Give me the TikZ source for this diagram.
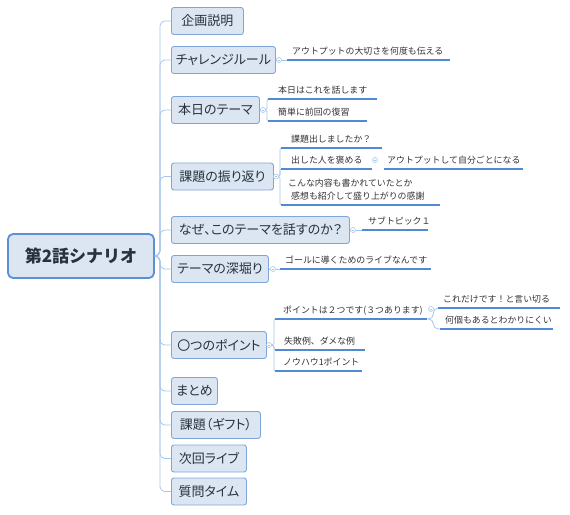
\documentclass[tikz,border=0pt]{standalone}
\usepackage{fontspec}
\setmainfont{Noto Sans CJK JP}
\newfontfamily\jpprop[RawFeature=+palt]{Noto Sans CJK JP}
\newcommand\rtfont{\fontsize{17}{20}\selectfont\bfseries}
\newcommand\bxfont{\jpprop\fontsize{13}{15}\selectfont}
\newcommand\sbfont{\fontsize{8.9}{13}\selectfont}
\definecolor{boxfill}{HTML}{DCE6F2}
\definecolor{boxdraw}{HTML}{7FA6D9}
\definecolor{rootdraw}{HTML}{5D8FD4}
\definecolor{textc}{HTML}{26323F}
\definecolor{subtext}{HTML}{333333}
\definecolor{ulinec}{HTML}{5089D4}
\definecolor{connc}{HTML}{A8C5EA}
\tikzset{
  rootbox/.style={draw=rootdraw, fill=boxfill, line width=1.8pt, rounded corners=5pt,
    minimum width=146pt, minimum height=44pt, inner sep=0pt, font=\rtfont, text=textc},
  topic/.style={draw=boxdraw, fill=boxfill, line width=0.9pt, rounded corners=2.5pt,
    minimum height=27pt, inner xsep=0pt, anchor=west, font=\bxfont, text=textc},
  sub/.style={anchor=south west, inner xsep=0pt, inner ysep=5pt, text depth=0pt,
    align=left, font=\sbfont, text=subtext},
  conn/.style={draw=connc, line width=0.8pt},
  uline/.style={draw=ulinec, line width=1.4pt},
  tog/.style={circle, draw=connc, fill=white, line width=0.6pt, minimum size=5pt, inner sep=0pt,
    path picture={\draw[connc, line width=0.5pt] ([xshift=1.2pt]path picture bounding box.west) -- ([xshift=-1.2pt]path picture bounding box.east);}}
}
\begin{document}
\begin{tikzpicture}[x=1pt,y=-1pt]
\useasboundingbox (0,0) rectangle (570,514);

% root
\node[rootbox] (root) at (81,256) {第2話シナリオ};

% main topics
\node[topic, minimum width=72pt]  (b1)  at (171,21)    {企画説明};
\node[topic, minimum width=104pt] (b2)  at (171,60)    {チャレンジルール};
\node[topic, minimum width=88pt]  (b3)  at (171,110)   {本日のテーマ};
\node[topic, minimum width=102pt] (b4)  at (171,176.5) {課題の振り返り};
\node[topic, minimum width=178pt] (b5)  at (171,230)   {なぜ、このテーマを話すのか？};
\node[topic, minimum width=97pt]  (b6)  at (171,269)   {テーマの深堀り};
\node[topic, minimum width=95pt]  (b7)  at (171,345)   {〇つのポイント};
\node[topic, minimum width=46pt]  (b8)  at (171,391)   {まとめ};
\node[topic, minimum width=89pt]  (b9)  at (171,425)   {課題（ギフト）};
\node[topic, minimum width=75pt]  (b10) at (171,458.5) {次回ライブ};
\node[topic, minimum width=75pt]  (b11) at (171,491.5) {質問タイム};

% trunk connectors
\foreach \b in {b1,b2,b3,b4,b5,b6,b7,b8,b9,b10,b11}
  \draw[conn, rounded corners=5pt] (root.east) -- ++(5,0) |- (\b.west);

% subtopics
\node[sub, text width=163pt] (s2)  at (287,60)  {\hspace*{5pt}アウトプットの大切さを何度も伝える};
\node[sub, text width=109pt] (s3a) at (268,99)  {\hspace*{10pt}本日はこれを話します};
\node[sub, text width=99pt]  (s3b) at (268,121) {\hspace*{10pt}簡単に前回の復習};
\node[sub, text width=101pt] (s4a) at (281,148) {\hspace*{10pt}課題出しましたか？};
\node[sub, text width=91pt]  (s4b) at (281,169) {\hspace*{10pt}出した人を褒める};
\node[sub, text width=159pt] (s4c) at (281,205) {\parbox[b]{159pt}{\hspace*{7pt}こんな内容も書かれていたとか\\\hspace*{10pt}感想も紹介して盛り上がりの感謝}};
\node[sub, text width=139pt] (s4d) at (384,169) {\hspace*{3pt}アウトプットして自分ごとになる};
\node[sub, text width=66pt]  (s5)  at (362,230) {\hspace*{6pt}サブトピック１};
\node[sub, text width=151pt] (s6)  at (280,269) {\hspace*{5pt}ゴールに導くためのライブなんです};
\node[sub, text width=152pt] (s7a) at (275,319) {\hspace*{8pt}ポイントは２つです(３つあります)};
\node[sub, text width=122pt] (s7a1) at (438,308) {\hspace*{5pt}これだけです！と言い切る};
\node[sub, text width=113pt] (s7a2) at (440,329) {\hspace*{5pt}何個もあるとわかりにくい};
\node[sub, text width=90pt]  (s7b) at (275,350) {\hspace*{9pt}失敗例、ダメな例};
\node[sub, text width=87pt]  (s7c) at (275,371) {\hspace*{8pt}ノウハウ1ポイント};

% sub connectors
\draw[conn] (b2.east) -- (s2.south west);
\foreach \s in {s3a,s3b}
  \draw[conn, rounded corners=1.5pt] (b3.east) -- ++(7,0) |- (\s.south west);
\foreach \s in {s4a,s4b,s4c}
  \draw[conn, rounded corners=1.5pt] (b4.east) -- ++(6,0) |- (\s.south west);
\draw[conn] (b5.east) -- (s5.south west);
\draw[conn] (b6.east) -- (s6.south west);
\foreach \s in {s7a,s7b,s7c}
  \draw[conn, rounded corners=1.5pt] (b7.east) -- ++(7,0) |- (\s.south west);
\foreach \s in {s7a1,s7a2}
  \draw[conn, rounded corners=5pt] (s7a.south east) -- ++(6,0) |- (\s.south west);

% underlines
\foreach \s in {s2,s3a,s3b,s4a,s4b,s4c,s4d,s5,s6,s7a,s7a1,s7a2,s7b,s7c}
  \draw[uline] (\s.south west) -- (\s.south east);

% collapse markers
\node[tog] (t2)  at (279,60)  {};
\node[tog] (t3)  at (263,110) {};
\node[tog] (t4)  at (276,176.5) {};
\node[tog] (t4b) at (375,160) {};
\node[tog] (t5)  at (353,230) {};
\node[tog] (t6)  at (273,269) {};
\node[tog] (t7)  at (269,345) {};
\node[tog] (t7a) at (431,309) {};
\end{tikzpicture}
\end{document}
